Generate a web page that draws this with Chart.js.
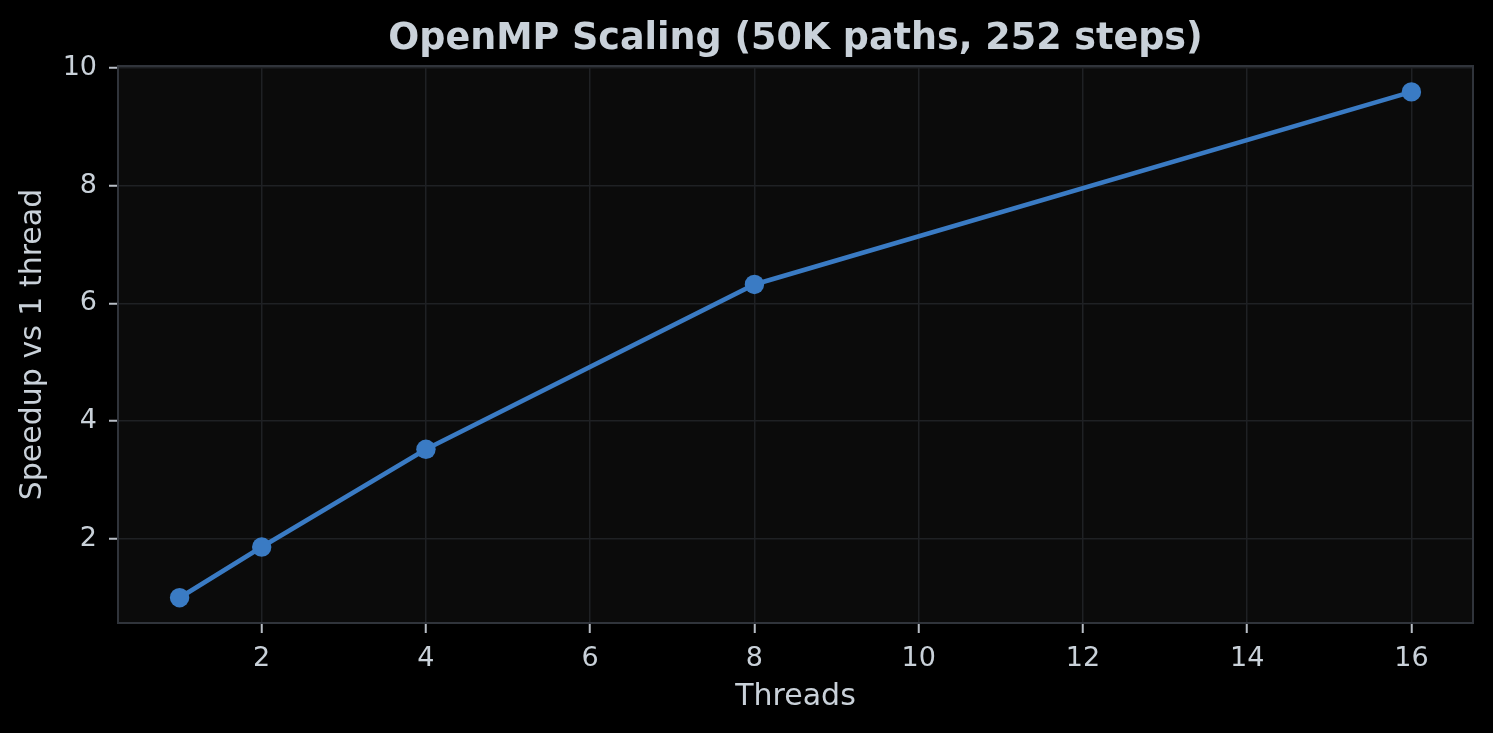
<!DOCTYPE html>
<html lang="en">
<head>
  <meta charset="UTF-8">
  <title>OpenMP Scaling</title>
  <script src="https://cdn.jsdelivr.net/npm/chart.js"></script>
  <style>
    html, body {
      margin: 0;
      padding: 0;
      background-color: #000000;
      overflow: hidden;
    }
    canvas {
      display: block;
    }
  </style>
</head>
<body>

  <canvas id="scalingChart" width="1493" height="733"></canvas>

  <script>
    // data
    const threads = [1, 2, 4, 8, 16];
    const speedup = [1.0, 1.86, 3.52, 6.32, 9.59];
    const xTicks = [2, 4, 6, 8, 10, 12, 14, 16];
    const yTicks = [2, 4, 6, 8, 10];

    const textColor = '#c9d1d9';
    const gridColor = '#1f2124';
    const spineColor = '#30343b';
    const lineColor = '#3a7bc4';

    // plot background, the four spines, and title centred over the plot
    const frame = {
      id: 'frame',
      afterLayout(chart) {
        const a = chart.chartArea;
        const t = chart.titleBlock;
        if (t) {
          t.left = a.left;
          t.right = a.right;
          t.width = a.right - a.left;
        }
      },
      beforeDraw(chart) {
        const a = chart.chartArea;
        const ctx = chart.ctx;
        ctx.save();
        ctx.fillStyle = '#0b0b0b';
        ctx.fillRect(a.left, a.top, a.right - a.left, a.bottom - a.top);
        ctx.restore();
      },
      afterDraw(chart) {
        const a = chart.chartArea;
        const ctx = chart.ctx;
        ctx.save();
        ctx.strokeStyle = spineColor;
        ctx.lineWidth = 2;
        ctx.strokeRect(a.left, a.top, a.right - a.left, a.bottom - a.top);
        ctx.restore();
      }
    };

    const ctx = document.getElementById('scalingChart').getContext('2d');

    new Chart(ctx, {
      type: 'line',
      data: {
        datasets: [{
          data: threads.map((t, i) => ({ x: t, y: speedup[i] })),
          borderColor: lineColor,
          backgroundColor: lineColor,
          borderWidth: 4.6,
          pointRadius: 9.7,
          pointHoverRadius: 9.7,
          pointBorderWidth: 0,
          tension: 0
        }]
      },
      options: {
        responsive: false,
        animation: false,
        layout: {
          padding: { left: 0, right: 20, top: 0, bottom: 0 }
        },
        plugins: {
          legend: { display: false },
          tooltip: { enabled: false },
          title: {
            display: true,
            text: 'OpenMP Scaling (50K paths, 252 steps)',
            color: textColor,
            font: { family: 'DejaVu Sans', size: 36.5, weight: 'bold', lineHeight: 1.2 },
            padding: { top: 18, bottom: 4.2 }
          }
        },
        scales: {
          x: {
            type: 'linear',
            min: 0.25,
            max: 16.75,
            afterBuildTicks: s => { s.ticks = xTicks.map(v => ({ value: v })); },
            afterFit: s => { s.height = 110; },
            grid: {
              color: gridColor,
              lineWidth: 1.5,
              tickColor: '#b8bec6',
              tickWidth: 2,
              tickLength: 10
            },
            border: { display: false },
            ticks: {
              color: textColor,
              font: { family: 'DejaVu Sans', size: 27 },
              padding: 10,
              maxRotation: 0
            },
            title: {
              display: true,
              text: 'Threads',
              color: textColor,
              font: { family: 'DejaVu Sans', size: 30, lineHeight: 1.2 },
              padding: { top: 0, bottom: 18 }
            }
          },
          y: {
            type: 'linear',
            min: 0.57,
            max: 10.03,
            afterBuildTicks: s => { s.ticks = yTicks.map(v => ({ value: v })); },
            afterFit: s => { s.width = 118; },
            grid: {
              color: gridColor,
              lineWidth: 1.5,
              tickColor: '#b8bec6',
              tickWidth: 2,
              tickLength: 9
            },
            border: { display: false },
            ticks: {
              color: textColor,
              font: { family: 'DejaVu Sans', size: 27 },
              padding: 12
            },
            title: {
              display: true,
              text: 'Speedup vs 1 thread',
              color: textColor,
              font: { family: 'DejaVu Sans', size: 30, lineHeight: 1.2 },
              padding: { top: 15, bottom: 0 }
            }
          }
        }
      },
      plugins: [frame]
    });
  </script>

</body>
</html>
